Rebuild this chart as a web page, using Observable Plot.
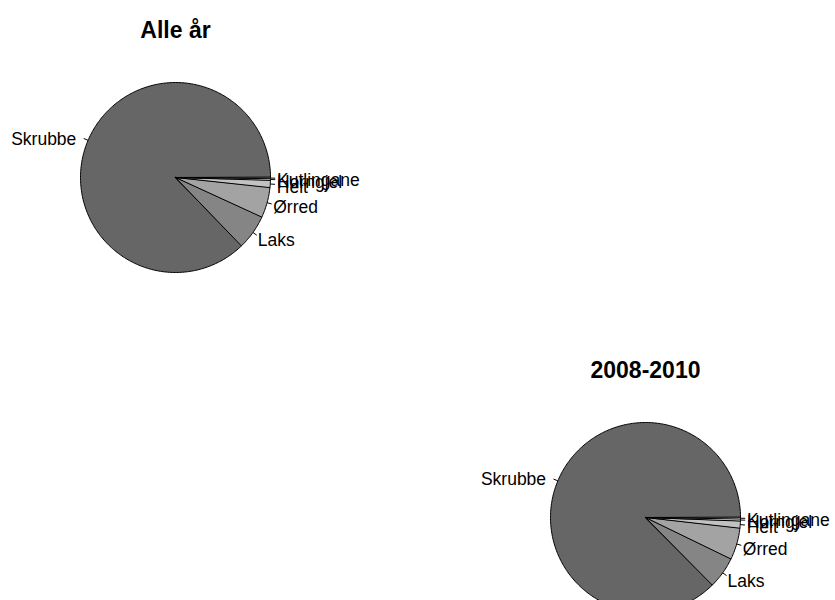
<!DOCTYPE html>
<html>
<head>
<meta charset="utf-8">
<script src="https://cdn.jsdelivr.net/npm/d3@7"></script>
<script src="https://cdn.jsdelivr.net/npm/@observablehq/plot@0.6"></script>
<style>
  html, body { margin: 0; padding: 0; background: #fff; }
  #wrap { position: relative; width: 835px; height: 600px; overflow: hidden; background: #fff; }
  #wrap svg { position: absolute; left: 0; top: 0; }
</style>
</head>
<body>
<div id="wrap"></div>
<script>
// ---- data ----
const categories = ["Skrubbe", "Laks", "Ørred", "Helt", "Horngjel", "Kutlingane"];
const valuesAll  = [87.2, 5.95, 5.15, 1.22, 0.28, 0.2];
const values0810 = [87.4, 5.4, 5.4, 1.2, 0.35, 0.25];
const titles = ["Alle år", "2008-2010"];

// ---- style / layout ----
const W = 835, H = 600, R = 95;
const greys = ["#666666", "#858585", "#A3A3A3", "#C2C2C2", "#E0E0E0", "#FFFFFF"];
const FONT = "'Liberation Sans', Arial, Helvetica, sans-serif";

function makePie(values, title, cx, cy) {
  const total = d3.sum(values);
  let acc = 0;
  const slices = values.map((v, i) => {
    const a0 = acc / total * 2 * Math.PI;
    acc += v;
    const a1 = acc / total * 2 * Math.PI;
    return { cat: categories[i], a0, a1, mid: (a0 + a1) / 2, color: greys[i] };
  });
  // polygon points (data units, radius 1), drawn counterclockwise from 3 o'clock
  const poly = [];
  for (const s of slices) {
    poly.push({ cat: s.cat, color: s.color, x: 0, y: 0 });
    const n = Math.max(2, Math.ceil((s.a1 - s.a0) / (2 * Math.PI) * 400));
    for (let k = 0; k <= n; k++) {
      const a = s.a0 + (s.a1 - s.a0) * k / n;
      poly.push({ cat: s.cat, color: s.color, x: Math.cos(a), y: Math.sin(a) });
    }
  }
  const labels = slices.map(s => ({
    cat: s.cat,
    x1: Math.cos(s.mid), y1: Math.sin(s.mid),
    x2: 1.05 * Math.cos(s.mid), y2: 1.05 * Math.sin(s.mid),
    lx: 1.1 * Math.cos(s.mid), ly: 1.1 * Math.sin(s.mid),
    right: Math.cos(s.mid) > 0
  }));

  return Plot.plot({
    width: W, height: H,
    margin: 0,
    x: { domain: [-cx / R, (W - cx) / R], axis: null },
    y: { domain: [-(H - cy) / R, cy / R], axis: null },
    color: { type: "identity" },
    style: { background: "transparent", fontFamily: FONT, overflow: "hidden" },
    marks: [
      Plot.line(poly, { x: "x", y: "y", z: "cat", fill: "color", stroke: "black", strokeWidth: 1, curve: "linear-closed" }),
      Plot.link(labels, { x1: "x1", y1: "y1", x2: "x2", y2: "y2", stroke: "black", strokeWidth: 1 }),
      Plot.text(labels.filter(d => d.right), { x: "lx", y: "ly", text: "cat", textAnchor: "start", dx: -3, dy: 2.5, fontSize: 17.5, fill: "black" }),
      Plot.text(labels.filter(d => !d.right), { x: "lx", y: "ly", text: "cat", textAnchor: "end", dx: -3, dy: 2.5, fontSize: 17.5, fill: "black" }),
      Plot.text([title], { x: 0, y: 1.55, text: d => d, fontSize: 23, fontWeight: "bold", fill: "black" })
    ]
  });
}

const wrap = document.getElementById("wrap");
wrap.appendChild(makePie(valuesAll, titles[0], 175, 177));
wrap.appendChild(makePie(values0810, titles[1], 645, 517));
</script>
</body>
</html>
